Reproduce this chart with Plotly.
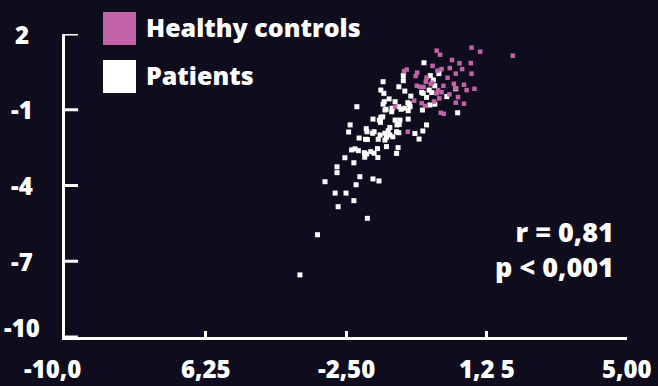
import plotly.graph_objects as go

# Healthy controls (x, y)
healthy_x = [0.85, 1.08, -0.08, 0.01, 1.95, 0.33, 0.53, 0.83, -0.19, 0.27,
             0.60, 0.43, 0.85, 0.05, -0.06, -0.88, -0.95, -0.60, -0.64, -0.35,
             0.21, -0.37, -0.61, -0.53, -0.43, -0.24, 0.10, 0.38, 0.65, 0.72,
             0.93, 0.43, -0.04, -0.08, 0.05, 0.26, 0.49, -0.68, -0.48, -0.15,
             -0.01, 0.43, 0.65, 0.03, 0.11, -0.85, -1.19, -0.39, -0.21]
healthy_y = [1.46, 1.30, 1.34, 1.18, 1.14, 0.97, 0.84, 0.85, 0.74, 0.65,
             0.61, 0.43, 0.43, 0.61, 0.55, 0.59, 0.53, 0.47, 0.34, 0.27,
             0.27, 0.11, -0.05, -0.09, -0.10, 0.02, -0.05, 0.03, -0.01, -0.22,
             -0.17, -0.15, -0.22, -0.35, -0.31, -0.39, -0.50, -0.64, -0.74, -0.67,
             -0.55, -0.72, -0.76, -1.12, -1.16, -1.87, -0.88, -0.85, 0.07]

# Patients (x, y)
patients_x = [-0.42, -0.02, -0.25, -0.17, -0.13, -0.28, -0.48, -0.44, -0.21, -0.35,
              0.19, 0.43, -0.13, -0.26, -0.46, 0.48, -0.35, -0.84, -0.97, -0.97,
              -1.09, -0.93, -0.77, -0.85, -0.81, -0.93, -0.84, -1.03, -1.19, -1.35,
              -1.27, -1.28, -1.46, -1.19, -1.06, -1.33, -1.51, -1.57, -1.49, -1.51,
              -1.48, -1.43, -1.09, -0.79, -2.21, -1.78, -1.61, -1.57, -1.58, -1.52,
              -1.08, -1.14, -2.39, -2.43, -1.96, -1.94, -1.79, -1.75, -1.59, -1.46,
              -1.37, -1.33, -1.15, -1.09, -1.25, -1.46, -1.42, -1.64, -0.66, -0.55,
              -0.45, -1.98, -1.93, -2.15, -2.35, -2.26, -2.17, -2.01, -1.95, -2.00,
              -1.84, -1.75, -1.65, -1.66, -1.42, -1.11, -1.15, -2.53, -2.29, -2.74,
              -2.74, -3.06, -2.79, -2.50, -2.13, -2.23, -1.78, -1.62, -2.71, -2.29,
              -1.93, -3.26, -3.73]
patients_y = [0.86, 0.43, 0.35, 0.18, -0.05, -0.22, -0.31, -0.35, -0.32, -0.51,
              -0.48, -0.17, -0.78, -0.81, -1.01, -1.12, -1.60, -1.37, 0.35, 0.15,
              -0.09, -0.26, -0.46, -0.72, -0.77, -0.94, -1.04, -0.98, -0.68, -0.57,
              -0.94, -1.08, -1.01, -1.41, -1.41, -1.70, 0.11, -0.22, -0.35, -0.78,
              -0.68, -0.98, -0.88, -0.88, -0.88, -1.37, -1.41, -1.30, -1.50, -1.28,
              -1.58, -1.60, -1.60, -1.88, -1.75, -1.87, -1.93, -1.87, -2.00, -1.93,
              -1.83, -2.00, -1.87, -1.91, -2.07, -2.20, -2.09, -2.17, -1.94, -2.16,
              -1.84, -2.17, -2.18, -2.12, -2.59, -2.55, -2.62, -2.70, -2.75, -2.88,
              -2.66, -2.72, -2.89, -2.54, -2.46, -2.50, -2.73, -2.90, -3.10, -3.26,
              -3.49, -3.85, -4.30, -4.30, -3.65, -3.97, -3.74, -3.82, -4.84, -4.60,
              -5.30, -5.95, -7.54]

x_ticks = [-10, -6.25, -2.5, 1.25, 5]
x_tick_labels = ["-10,0", "6,25", "-2,50", "1,2 5", "5,00"]
y_ticks = [2, -1, -4, -7, -10]
y_tick_labels = ["2", "-1", "-4", "-7", "-10"]

stats_text = "r = 0,81<br>p < 0,001"
legend_labels = ["Healthy controls", "Patients"]

BG = "#0f0c1e"
PINK = "#c263a8"
WHITE = "#ffffff"
FONT = "Open Sans"

W, H = 658, 386
L, R, T, B = 65, 31, 34, 49
pw, ph = W - L - R, H - T - B


def px(x):
    return (x - L) / pw


def py(y):
    return (H - B - y) / ph


fig = go.Figure()
fig.add_trace(go.Scatter(x=patients_x, y=patients_y, mode="markers",
                         marker=dict(symbol="square", size=5, color=WHITE, line=dict(width=0)),
                         showlegend=False, cliponaxis=False))
fig.add_trace(go.Scatter(x=healthy_x, y=healthy_y, mode="markers",
                         marker=dict(symbol="square", size=4.5, color=PINK, line=dict(width=0)),
                         showlegend=False, cliponaxis=False))

shapes = []
annotations = []

# hand-drawn legend: swatches and labels
for i, (label, col) in enumerate(zip(legend_labels, [PINK, WHITE])):
    top = 12 + i * 48
    shapes.append(dict(type="rect", xref="paper", yref="paper",
                       x0=px(103), x1=px(136), y0=py(top + 33), y1=py(top),
                       fillcolor=col, line=dict(width=0), layer="above"))
    annotations.append(dict(text=label, xref="paper", yref="paper",
                            x=px(144), y=py(top + 15), xanchor="left", yanchor="middle",
                            showarrow=False,
                            font=dict(family=FONT, size=25, color=WHITE, weight=800)))

annotations.append(dict(text=stats_text, xref="paper", yref="paper",
                        x=px(616), y=py(249), xanchor="right", yanchor="middle",
                        align="right", showarrow=False,
                        font=dict(family=FONT, size=27, color=WHITE, weight=800)))

# y-axis tick marks pointing into the plot
for v in y_ticks:
    shapes.append(dict(type="line", xref="paper", yref="y",
                       x0=px(64), x1=px(78), y0=v, y1=v,
                       line=dict(color=WHITE, width=3), layer="above"))

# tick labels placed freely away from the axis lines
axis_font = dict(family=FONT, size=24, color=WHITE, weight=800)
for i, (v, t) in enumerate(zip(x_ticks, x_tick_labels)):
    annotations.append(dict(text=t, x=v, xref="x", y=py(368), yref="paper",
                            xanchor="center", yanchor="middle", showarrow=False,
                            xshift=-13 if i == 0 else 0, font=axis_font))
for i, (v, t) in enumerate(zip(y_ticks, y_tick_labels)):
    annotations.append(dict(text=t, x=px(22), xref="paper", y=v, yref="y",
                            xanchor="center", yanchor="middle", showarrow=False,
                            yshift=10 if i == len(y_ticks) - 1 else 0, font=axis_font))

fig.update_layout(
    width=W, height=H,
    margin=dict(l=L, r=R, t=T, b=B),
    paper_bgcolor=BG, plot_bgcolor=BG,
    shapes=shapes, annotations=annotations,
    xaxis=dict(range=[-10, 5], tickmode="array", tickvals=x_ticks,
               showticklabels=False,
               showgrid=False, zeroline=False, showline=True, linecolor=WHITE,
               linewidth=3, ticks="inside", ticklen=6, tickwidth=3, tickcolor=WHITE,
               automargin=False),
    yaxis=dict(range=[-10, 2], showticklabels=False, ticks="",
               showgrid=False, zeroline=False, showline=True, linecolor=WHITE,
               linewidth=3, automargin=False),
)

fig.write_html("out.html")
